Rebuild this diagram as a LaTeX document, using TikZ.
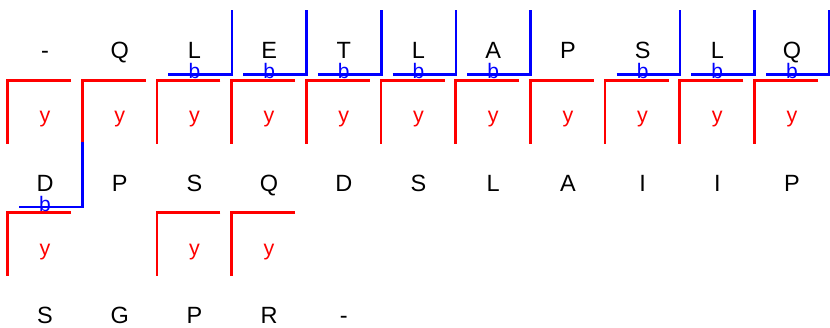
\documentclass[tikz,border=0pt]{standalone}
\usepackage{fontspec}
\setmainfont{Liberation Sans}
\usetikzlibrary{calc}
\definecolor{ionred}{RGB}{255,0,0}
\definecolor{ionblue}{RGB}{0,0,255}
\tikzset{
  res/.style={anchor=base, inner sep=0pt, font=\fontsize{23.5}{26}\selectfont, text=black},
  ylab/.style={anchor=base, inner sep=0pt, font=\fontsize{21.5}{24}\selectfont, text=ionred},
  blab/.style={anchor=base, inner sep=0pt, font=\fontsize{21}{24}\selectfont, text=ionblue},
  ybr/.style={draw=ionred, line width=2.7pt},
  bbr/.style={draw=ionblue, line width=2.7pt},
}
\begin{document}
\begin{tikzpicture}[x=1pt,y=-1pt]
\useasboundingbox (0,0) rectangle (830,328);
% residue positions (baselines)
\foreach \r in {0,1,2}{
  \foreach \c in {0,...,10}{
    \coordinate (p-\r-\c) at ({45+74.7*\c},{59+132.3*\r});
  }
}
% residues
\foreach \c/\t in {0/-,1/Q,2/L,3/E,4/T,5/L,6/A,7/P,8/S,9/L,10/Q}{
  \node[res] (r-0-\c) at (p-0-\c) {\t};
}
\foreach \c/\t in {0/D,1/P,2/S,3/Q,4/D,5/S,6/L,7/A,8/I,9/I,10/P}{
  \node[res] (r-1-\c) at (p-1-\c) {\t};
}
\foreach \c/\t in {0/S,1/G,2/P,3/R,4/-}{
  \node[res] (r-2-\c) at (p-2-\c) {\t};
}
% y ions (red)
\foreach \r/\c in {0/0,0/1,0/2,0/3,0/4,0/5,0/6,0/7,0/8,0/9,0/10,1/0,1/2,1/3}{
  \draw[ybr] ($(p-\r-\c)+(26,21.2)$) -- ($(p-\r-\c)+(-37.5,21.2)$) -- ($(p-\r-\c)+(-37.5,85)$);
  \node[ylab] (y-\r-\c) at ($(p-\r-\c)+(0,64)$) {y};
}
% b ions (blue)
\foreach \r/\c in {0/2,0/3,0/4,0/5,0/6,0/8,0/9,0/10,1/0}{
  \draw[bbr] ($(p-\r-\c)+(-26,15.8)$) -- ($(p-\r-\c)+(37.5,15.8)$) -- ($(p-\r-\c)+(37.5,-49)$);
  \node[blab] (b-\r-\c) at ($(p-\r-\c)+(0,20)$) {b};
}
\end{tikzpicture}
\end{document}
